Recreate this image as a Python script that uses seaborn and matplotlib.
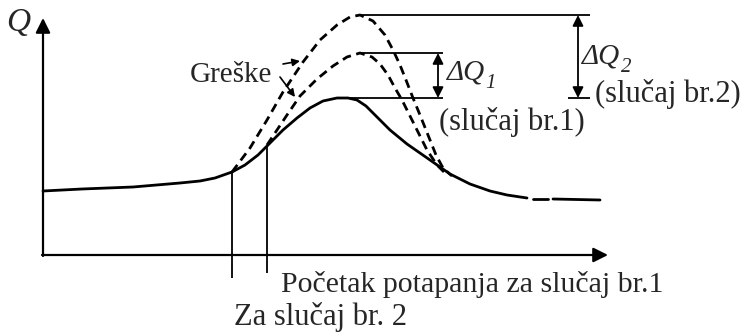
import matplotlib
matplotlib.use("Agg")
import matplotlib.pyplot as plt
import seaborn as sns
import pandas as pd

# --- hydrograph data (time t, discharge Q), schematic units ---
base_t = [0, 39, 90, 137, 157, 172, 189, 202, 215, 227, 240, 254, 267, 280,
          294, 305, 314, 323, 332, 347, 364, 387, 407, 427, 447, 464, 484]
base_q = [64, 66, 68, 72, 74, 77, 83, 90, 100, 112, 125, 137, 147, 154,
          157, 157, 155, 149, 140, 125, 111, 95, 81, 71, 64, 60, 57]

# tail of the natural hydrograph, drawn broken
tail_t = [490, 505, 510, 557]
tail_q = [56, 56, 56, 55]
tail_seg = [0, 0, 1, 1]

# case 1: submergence starts later (t = 224)
case1_t = [224, 234, 244, 257, 274, 290, 304, 317, 329, 337, 345, 352,
           359, 367, 375, 384, 394, 404]
case1_q = [110, 125, 140, 159, 176, 189, 198, 202, 198, 191, 180, 167,
           155, 139, 123, 105, 90, 80]

# case 2: submergence starts earlier (t = 189)
case2_t = [189, 207, 224, 240, 260, 277, 294, 307, 317, 330, 342, 350,
           357, 363, 370, 377, 385, 393, 400, 409]
case2_q = [83, 107, 135, 163, 193, 215, 230, 238, 240, 234, 220, 205,
           190, 175, 157, 140, 120, 100, 87, 79]

peak_base = 157
peak_case1 = 202
peak_case2 = 240

sns.set_theme(style="white")
plt.rcParams["font.family"] = ["Liberation Serif", "DejaVu Serif"]

fig = plt.figure(figsize=(7.46, 3.32), dpi=100)
ax = fig.add_axes([0, 0, 1, 1])
ax.set_xlim(-43, 703)
ax.set_ylim(-77, 255)
ax.set_axis_off()

lw_curve = 2.0
dash = (0, (3.2, 2.0))

sns.lineplot(data=pd.DataFrame({"t": base_t, "Q": base_q}), x="t", y="Q",
             color="black", lw=lw_curve, ax=ax, legend=False)
tail = pd.DataFrame({"t": tail_t, "Q": tail_q, "seg": tail_seg})
for _, g in tail.groupby("seg"):
    sns.lineplot(data=g, x="t", y="Q", color="black", lw=lw_curve, ax=ax,
                 legend=False)
sns.lineplot(data=pd.DataFrame({"t": case1_t, "Q": case1_q}), x="t", y="Q",
             color="black", lw=lw_curve, ls=dash, ax=ax, legend=False)
sns.lineplot(data=pd.DataFrame({"t": case2_t, "Q": case2_q}), x="t", y="Q",
             color="black", lw=lw_curve, ls=dash, ax=ax, legend=False)

# axes with arrowheads
axis_kw = dict(arrowstyle="-|>", color="black", lw=1.6,
               mutation_scale=22, shrinkA=0, shrinkB=0)
ax.annotate("", xy=(0, 237), xytext=(0, -1), arrowprops=axis_kw)
ax.annotate("", xy=(565, 0), xytext=(-1, 0), arrowprops=axis_kw)

# start of submergence markers
ax.vlines([case2_t[0]], -23, case2_q[0], color="black", lw=1.3)
ax.vlines([case1_t[0]], -18, case1_q[0], color="black", lw=1.3)

# peak reference lines
ax.hlines(peak_case2, 317, 547, color="black", lw=1.3)
ax.hlines(peak_case1, 317, 400, color="black", lw=1.3)
ax.hlines(peak_base, 304, 400, color="black", lw=1.3)
ax.hlines(peak_base, 525, 547, color="black", lw=1.3)

# peak differences
dq_kw = dict(arrowstyle="<|-|>", color="black", lw=1.3,
             mutation_scale=16, shrinkA=0, shrinkB=0)
ax.annotate("", xy=(395, peak_case1), xytext=(395, peak_base), arrowprops=dq_kw)
ax.annotate("", xy=(535, peak_case2), xytext=(535, peak_base), arrowprops=dq_kw)

# error pointers
err_kw = dict(arrowstyle="-|>", color="black", lw=1.2,
              mutation_scale=11, shrinkA=0, shrinkB=0)
ax.annotate("", xy=(257, 194), xytext=(240, 191), arrowprops=err_kw)
ax.annotate("", xy=(252, 158), xytext=(237, 178), arrowprops=err_kw)

ax.text(-37, 224, "Q", fontsize=24, style="italic", va="baseline")
ax.text(147, 173, "Greške", fontsize=21, va="baseline")
ax.text(404, 175, "ΔQ", fontsize=21, style="italic", va="baseline")
ax.text(442, 167, "1", fontsize=15, style="italic", va="baseline")
ax.text(539, 192, "ΔQ", fontsize=21, style="italic", va="baseline")
ax.text(578, 183, "2", fontsize=15, style="italic", va="baseline")
ax.text(552, 153, "(slučaj br.2)", fontsize=22, va="baseline")
ax.text(396, 125, "(slučaj br.1)", fontsize=22, va="baseline")
ax.text(238, -37, "Početak potapanja za slučaj br.1", fontsize=21.5, va="baseline")
ax.text(191, -70, "Za slučaj br. 2", fontsize=22, va="baseline")

fig.savefig("out.png", dpi=100, facecolor="white")
